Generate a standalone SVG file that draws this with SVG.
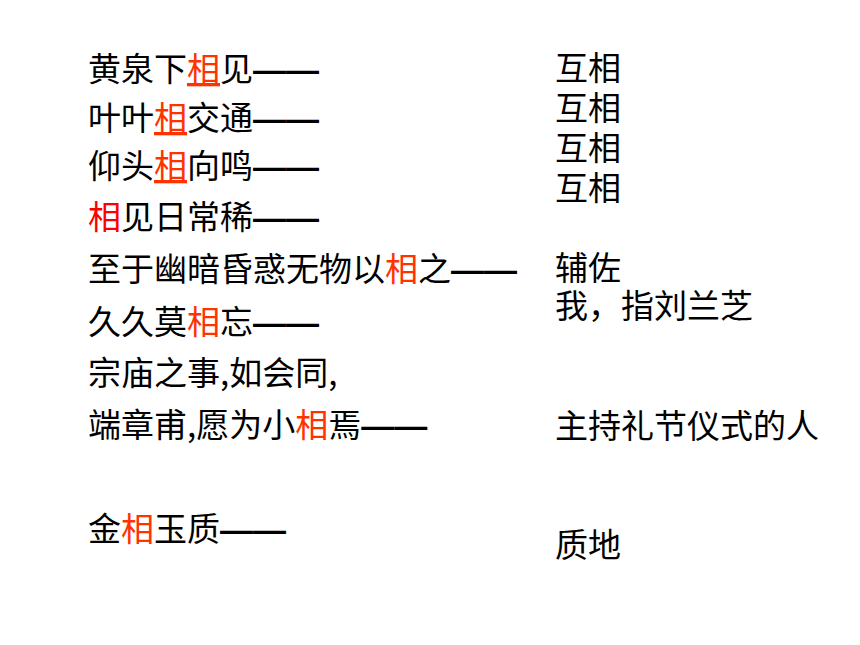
<svg xmlns="http://www.w3.org/2000/svg" width="860" height="645" viewBox="0 0 860 645">
<style>
text{font-family:"Noto Sans CJK SC","Liberation Sans",sans-serif;font-size:33px;fill:#000}
.h{fill:#FF3300}
.u{fill:#FF3300;text-decoration:underline}
.r{fill:#FF0000}
.d{font-family:"Liberation Sans","Noto Sans CJK SC",sans-serif;font-weight:bold}
</style>
<rect width="860" height="645" fill="#fff"/>
<g id="left">
<text x="88" y="81">黄泉下<tspan class="u">相</tspan>见<tspan class="d">——</tspan></text>
<text x="88" y="130">叶叶<tspan class="u">相</tspan>交通<tspan class="d">——</tspan></text>
<text x="88" y="178">仰头<tspan class="u">相</tspan>向鸣<tspan class="d">——</tspan></text>
<text x="88" y="229"><tspan class="r">相</tspan>见日常稀<tspan class="d">——</tspan></text>
<text x="88" y="281">至于幽暗昏惑无物以<tspan class="h">相</tspan>之<tspan class="d">——</tspan></text>
<text x="88" y="334">久久莫<tspan class="h">相</tspan>忘<tspan class="d">——</tspan></text>
<text x="88" y="385">宗庙之事,如会同,</text>
<text x="88" y="437">端章甫,愿为小<tspan class="h">相</tspan>焉<tspan class="d">——</tspan></text>
<text x="88" y="541">金<tspan class="h">相</tspan>玉质<tspan class="d">——</tspan></text>
</g>
<g id="right">
<text x="555" y="80">互相</text>
<text x="555" y="120">互相</text>
<text x="555" y="160">互相</text>
<text x="555" y="200">互相</text>
<text x="555" y="280">辅佐</text>
<text x="555" y="318">我，指刘兰芝</text>
<text x="555" y="438">主持礼节仪式的人</text>
<text x="555" y="557">质地</text>
</g>
</svg>
